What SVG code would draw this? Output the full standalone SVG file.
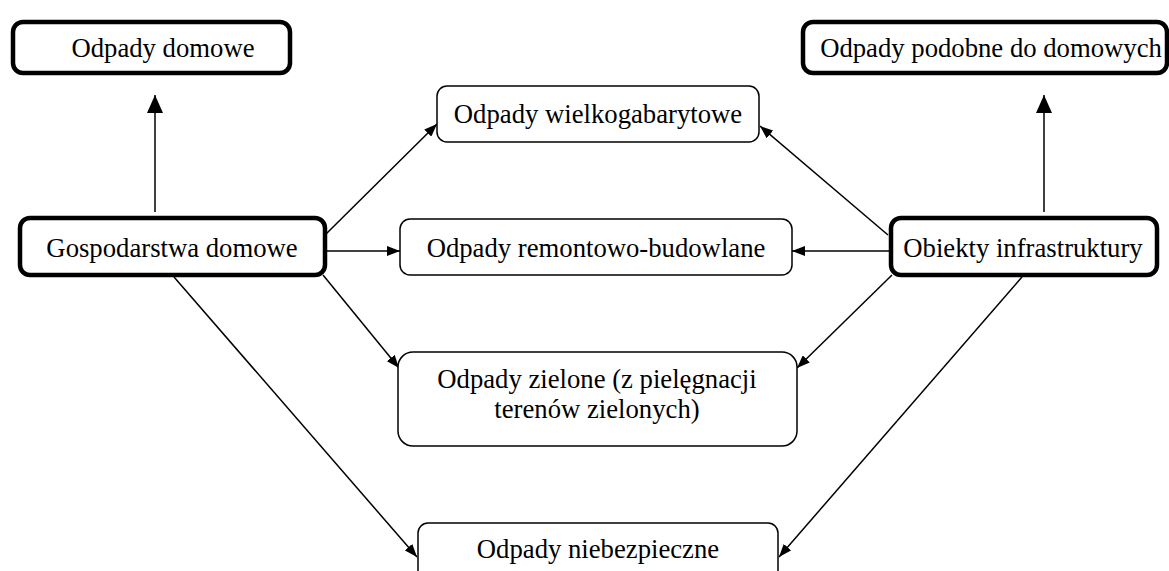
<svg xmlns="http://www.w3.org/2000/svg" width="1169" height="571" viewBox="0 0 1169 571">
<style>
.thick{fill:#fff;stroke:#000;stroke-width:4.5}
.thin{fill:#fff;stroke:#000;stroke-width:1.5}
text{font-family:"Liberation Serif","Tinos","Times New Roman","DejaVu Serif",serif;font-size:26.7px;fill:#000;text-anchor:middle}
.c{stroke:#000;stroke-width:1.5;fill:none}
</style>
<defs>
<marker id="a" markerUnits="userSpaceOnUse" markerWidth="14" markerHeight="10" refX="13" refY="5" orient="auto"><path d="M0,0 L13,5 L0,10 z" fill="#000"/></marker>
<marker id="b" markerUnits="userSpaceOnUse" markerWidth="18" markerHeight="16" refX="18" refY="8" orient="auto"><path d="M0,0 L18,8 L0,16 z" fill="#000"/></marker>
</defs>
<g id="connectors">
<line class="c" x1="155" y1="212" x2="155" y2="95" marker-end="url(#b)"/>
<line class="c" x1="1044" y1="212" x2="1044" y2="95" marker-end="url(#b)"/>
<line class="c" x1="325" y1="235" x2="437" y2="124" marker-end="url(#a)"/>
<line class="c" x1="327" y1="251" x2="400" y2="251" marker-end="url(#a)"/>
<line class="c" x1="323" y1="275" x2="399" y2="368" marker-end="url(#a)"/>
<line class="c" x1="174" y1="277" x2="417" y2="557" marker-end="url(#a)"/>
<line class="c" x1="888" y1="235" x2="760" y2="126" marker-end="url(#a)"/>
<line class="c" x1="889" y1="251" x2="792" y2="251" marker-end="url(#a)"/>
<line class="c" x1="892" y1="275" x2="797" y2="368" marker-end="url(#a)"/>
<line class="c" x1="1022" y1="277" x2="779" y2="557" marker-end="url(#a)"/>
</g>
<g id="odpady-domowe"><rect class="thick" x="13" y="22" width="277" height="51" rx="10"/><text x="163" y="57">Odpady domowe</text></g>
<g id="odpady-podobne"><rect class="thick" x="803" y="22" width="364" height="51" rx="10"/><text x="991" y="57">Odpady podobne do domowych</text></g>
<g id="gospodarstwa"><rect class="thick" x="20" y="218" width="305" height="57" rx="10"/><text x="172" y="257">Gospodarstwa domowe</text></g>
<g id="obiekty"><rect class="thick" x="891" y="218" width="266" height="57" rx="10"/><text x="1023" y="257">Obiekty infrastruktury</text></g>
<g id="wielkogabarytowe"><rect class="thin" x="437" y="86" width="322" height="56" rx="10"/><text x="598" y="123">Odpady wielkogabarytowe</text></g>
<g id="remontowo"><rect class="thin" x="400" y="219" width="392" height="56" rx="10"/><text x="596" y="257">Odpady remontowo-budowlane</text></g>
<g id="zielone"><rect class="thin" x="398" y="352" width="399" height="94" rx="15"/><text x="597" y="388">Odpady zielone (z pielęgnacji</text><text x="597" y="418">terenów zielonych)</text></g>
<g id="niebezpieczne"><rect class="thin" x="418" y="523" width="360" height="70" rx="10"/><text x="598" y="558">Odpady niebezpieczne</text></g>
</svg>
